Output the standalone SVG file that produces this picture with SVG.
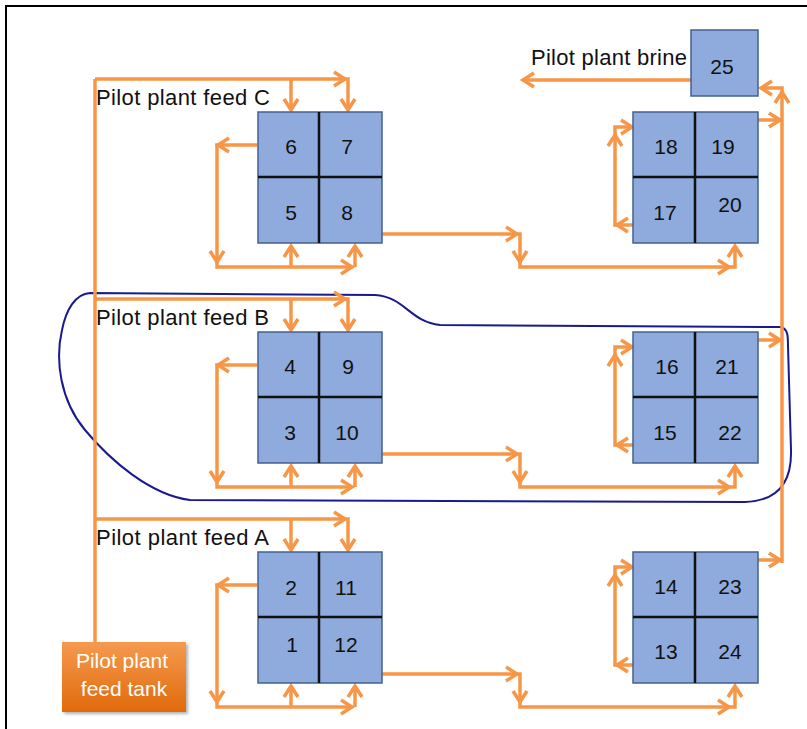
<svg xmlns="http://www.w3.org/2000/svg" xmlns:xlink="http://www.w3.org/1999/xlink" width="807" height="729" viewBox="0 0 807 729">
<style>
.ln{fill:none;stroke:#F79646;stroke-width:3.5;stroke-linejoin:miter}
.ah{fill:none;stroke:#F79646;stroke-width:3.5;stroke-linecap:butt;stroke-linejoin:miter}
.blk{fill:#8FAADC;stroke:#41618F;stroke-width:1.5}
.div{stroke:#111;stroke-width:2.5}
.num{font-family:"Liberation Sans",Arial,sans-serif;font-size:21px;fill:#111;text-anchor:middle}
.lbl{font-family:"Liberation Sans",Arial,sans-serif;font-size:22px;fill:#111}
.tank{font-family:"Liberation Sans",Arial,sans-serif;font-size:21px;fill:#fff;text-anchor:middle}
</style>
<defs>
<path id="ch" class="ah" d="M-11,-7 L0,0 L-11,7"/>
<linearGradient id="tg" x1="0" y1="0" x2="0" y2="1">
<stop offset="0" stop-color="#F59A4E"/>
<stop offset="1" stop-color="#E06A0C"/>
</linearGradient>
<filter id="sh" x="-10%" y="-10%" width="130%" height="130%">
<feDropShadow dx="2" dy="2" stdDeviation="1.5" flood-color="#000" flood-opacity="0.3"/>
</filter>
</defs>
<rect width="807" height="729" fill="#fff"/>
<g id="frame">
<path d="M5,6 H807 M6,6 V729" stroke="#000" stroke-width="2" fill="none"/>
</g>
<g id="outline-B">
<path d="M90,293 L375,295 C405,297 410,322 440,325 L780,327 C788,328 788,336 788,346 L791,450 C792,485 775,501 745,502 L190,500 C150,495 110,460 85,430 C60,400 55,360 62,330 C66,310 75,294 90,293 Z" fill="none" stroke="#1A1A8E" stroke-width="2"/>
</g>
<g id="connectors">
<path class="ln" d="M95,642 V79"/>
<path class="ln" d="M95,79 H348 V110 M291,79 V110 M95,299 H348 V330 M291,299 V330 M95,519 H348 V550 M291,519 V550"/>
<path class="ln" d="M330,120 H310 M319,233 H331 M330,340 H310 M319,453 H331 M330,560 H310 M319,673 H331"/>
<path class="ln" d="M257,145 H217 V267 H352 M291,267 V246 M355,267 V246"/>
<path class="ln" d="M257,365 H217 V487 H352 M291,487 V466 M355,487 V466"/>
<path class="ln" d="M257,585 H217 V707 H352 M291,707 V686 M355,707 V686"/>
<path class="ln" d="M382,234 H520 V267 H735 V246 M382,454 H520 V487 H735 V466 M382,674 H520 V707 H735 V686"/>
<path class="ln" d="M633,225 H615 V127 H632 M633,445 H615 V347 H632 M633,665 H615 V567 H632"/>
<path class="ln" d="M692,127 H707 M697,218 H679 M692,347 H707 M697,438 H679 M692,567 H707 M697,658 H679"/>
<path class="ln" d="M750,120 H781 M750,340 H781 M750,560 H781"/>
<path class="ln" d="M782,563 V88 H761"/>
<path class="ln" d="M691,80 H523"/>
<!-- arrowheads: feed lines -->
<use xlink:href="#ch" transform="translate(345,79)"/>
<use xlink:href="#ch" transform="translate(348,110) rotate(90)"/>
<use xlink:href="#ch" transform="translate(291,110) rotate(90)"/>
<use xlink:href="#ch" transform="translate(345,299)"/>
<use xlink:href="#ch" transform="translate(348,330) rotate(90)"/>
<use xlink:href="#ch" transform="translate(291,330) rotate(90)"/>
<use xlink:href="#ch" transform="translate(345,519)"/>
<use xlink:href="#ch" transform="translate(348,550) rotate(90)"/>
<use xlink:href="#ch" transform="translate(291,550) rotate(90)"/>
<!-- internal left -->
<use xlink:href="#ch" transform="translate(310,120) rotate(180)"/>
<use xlink:href="#ch" transform="translate(331,233)"/>
<use xlink:href="#ch" transform="translate(310,340) rotate(180)"/>
<use xlink:href="#ch" transform="translate(331,453)"/>
<use xlink:href="#ch" transform="translate(310,560) rotate(180)"/>
<use xlink:href="#ch" transform="translate(331,673)"/>
<!-- left loops -->
<use xlink:href="#ch" transform="translate(218,145) rotate(180)"/>
<use xlink:href="#ch" transform="translate(217,262) rotate(90)"/>
<use xlink:href="#ch" transform="translate(352,267)"/>
<use xlink:href="#ch" transform="translate(291,246) rotate(-90)"/>
<use xlink:href="#ch" transform="translate(355,246) rotate(-90)"/>
<use xlink:href="#ch" transform="translate(218,365) rotate(180)"/>
<use xlink:href="#ch" transform="translate(217,482) rotate(90)"/>
<use xlink:href="#ch" transform="translate(352,487)"/>
<use xlink:href="#ch" transform="translate(291,466) rotate(-90)"/>
<use xlink:href="#ch" transform="translate(355,466) rotate(-90)"/>
<use xlink:href="#ch" transform="translate(218,585) rotate(180)"/>
<use xlink:href="#ch" transform="translate(217,702) rotate(90)"/>
<use xlink:href="#ch" transform="translate(352,707)"/>
<use xlink:href="#ch" transform="translate(291,686) rotate(-90)"/>
<use xlink:href="#ch" transform="translate(355,686) rotate(-90)"/>
<!-- transfer -->
<use xlink:href="#ch" transform="translate(517,234)"/>
<use xlink:href="#ch" transform="translate(520,262) rotate(90)"/>
<use xlink:href="#ch" transform="translate(729,267)"/>
<use xlink:href="#ch" transform="translate(735,246) rotate(-90)"/>
<use xlink:href="#ch" transform="translate(517,454)"/>
<use xlink:href="#ch" transform="translate(520,482) rotate(90)"/>
<use xlink:href="#ch" transform="translate(729,487)"/>
<use xlink:href="#ch" transform="translate(735,466) rotate(-90)"/>
<use xlink:href="#ch" transform="translate(517,674)"/>
<use xlink:href="#ch" transform="translate(520,702) rotate(90)"/>
<use xlink:href="#ch" transform="translate(729,707)"/>
<use xlink:href="#ch" transform="translate(735,686) rotate(-90)"/>
<!-- right loops -->
<use xlink:href="#ch" transform="translate(617,225) rotate(180)"/>
<use xlink:href="#ch" transform="translate(615,135) rotate(-90)"/>
<use xlink:href="#ch" transform="translate(632,127)"/>
<use xlink:href="#ch" transform="translate(707,127)"/>
<use xlink:href="#ch" transform="translate(679,218) rotate(180)"/>
<use xlink:href="#ch" transform="translate(780,120)"/>
<use xlink:href="#ch" transform="translate(617,445) rotate(180)"/>
<use xlink:href="#ch" transform="translate(615,355) rotate(-90)"/>
<use xlink:href="#ch" transform="translate(632,347)"/>
<use xlink:href="#ch" transform="translate(707,347)"/>
<use xlink:href="#ch" transform="translate(679,438) rotate(180)"/>
<use xlink:href="#ch" transform="translate(780,340)"/>
<use xlink:href="#ch" transform="translate(617,665) rotate(180)"/>
<use xlink:href="#ch" transform="translate(615,575) rotate(-90)"/>
<use xlink:href="#ch" transform="translate(632,567)"/>
<use xlink:href="#ch" transform="translate(707,567)"/>
<use xlink:href="#ch" transform="translate(679,658) rotate(180)"/>
<use xlink:href="#ch" transform="translate(780,560)"/>
<!-- brine -->
<use xlink:href="#ch" transform="translate(782,92) rotate(-90)"/>
<use xlink:href="#ch" transform="translate(761,88) rotate(180)"/>
<use xlink:href="#ch" transform="translate(523,80) rotate(180)"/>
</g>
<g id="block-C-left">
<rect class="blk" x="258" y="112" width="124" height="131"/>
<path class="div" d="M258,177 H382 M319,112 V243"/>
<text class="num" x="291" y="154">6</text><text class="num" x="347" y="154">7</text>
<text class="num" x="291" y="220">5</text><text class="num" x="347" y="220">8</text>
</g>
<g id="block-C-right">
<rect class="blk" x="633" y="112" width="125" height="131"/>
<path class="div" d="M633,177 H758 M695,112 V243"/>
<text class="num" x="666" y="154">18</text><text class="num" x="723" y="154">19</text>
<text class="num" x="665" y="220">17</text><text class="num" x="730" y="212">20</text>
</g>
<g id="block-B-left">
<rect class="blk" x="258" y="332" width="124" height="131"/>
<path class="div" d="M258,397 H382 M319,332 V463"/>
<text class="num" x="290" y="374">4</text><text class="num" x="348" y="374">9</text>
<text class="num" x="290" y="440">3</text><text class="num" x="347" y="440">10</text>
</g>
<g id="block-B-right">
<rect class="blk" x="633" y="332" width="125" height="131"/>
<path class="div" d="M633,397 H758 M695,332 V463"/>
<text class="num" x="667" y="374">16</text><text class="num" x="727" y="374">21</text>
<text class="num" x="665" y="440">15</text><text class="num" x="730" y="440">22</text>
</g>
<g id="block-A-left">
<rect class="blk" x="258" y="552" width="124" height="131"/>
<path class="div" d="M258,617 H382 M319,552 V683"/>
<text class="num" x="291" y="595">2</text><text class="num" x="346" y="595">11</text>
<text class="num" x="292" y="652">1</text><text class="num" x="346" y="652">12</text>
</g>
<g id="block-A-right">
<rect class="blk" x="633" y="552" width="125" height="131"/>
<path class="div" d="M633,617 H758 M695,552 V683"/>
<text class="num" x="666" y="594">14</text><text class="num" x="730" y="594">23</text>
<text class="num" x="666" y="659">13</text><text class="num" x="730" y="659">24</text>
</g>
<g id="block-25">
<rect class="blk" x="691" y="30" width="67" height="66"/>
<text class="num" x="722" y="74">25</text>
</g>
<g id="labels">
<text class="lbl" x="96" y="105" textLength="174" lengthAdjust="spacing">Pilot plant feed C</text>
<text class="lbl" x="96" y="325" textLength="173" lengthAdjust="spacing">Pilot plant feed B</text>
<text class="lbl" x="96" y="545" textLength="173" lengthAdjust="spacing">Pilot plant feed A</text>
<text class="lbl" x="531" y="65" textLength="156" lengthAdjust="spacing">Pilot plant brine</text>
</g>
<g id="feed-tank">
<rect x="62" y="642" width="124" height="70" fill="url(#tg)" filter="url(#sh)"/>
<text class="tank" x="122" y="668">Pilot plant</text>
<text class="tank" x="124" y="696">feed tank</text>
</g>
</svg>
